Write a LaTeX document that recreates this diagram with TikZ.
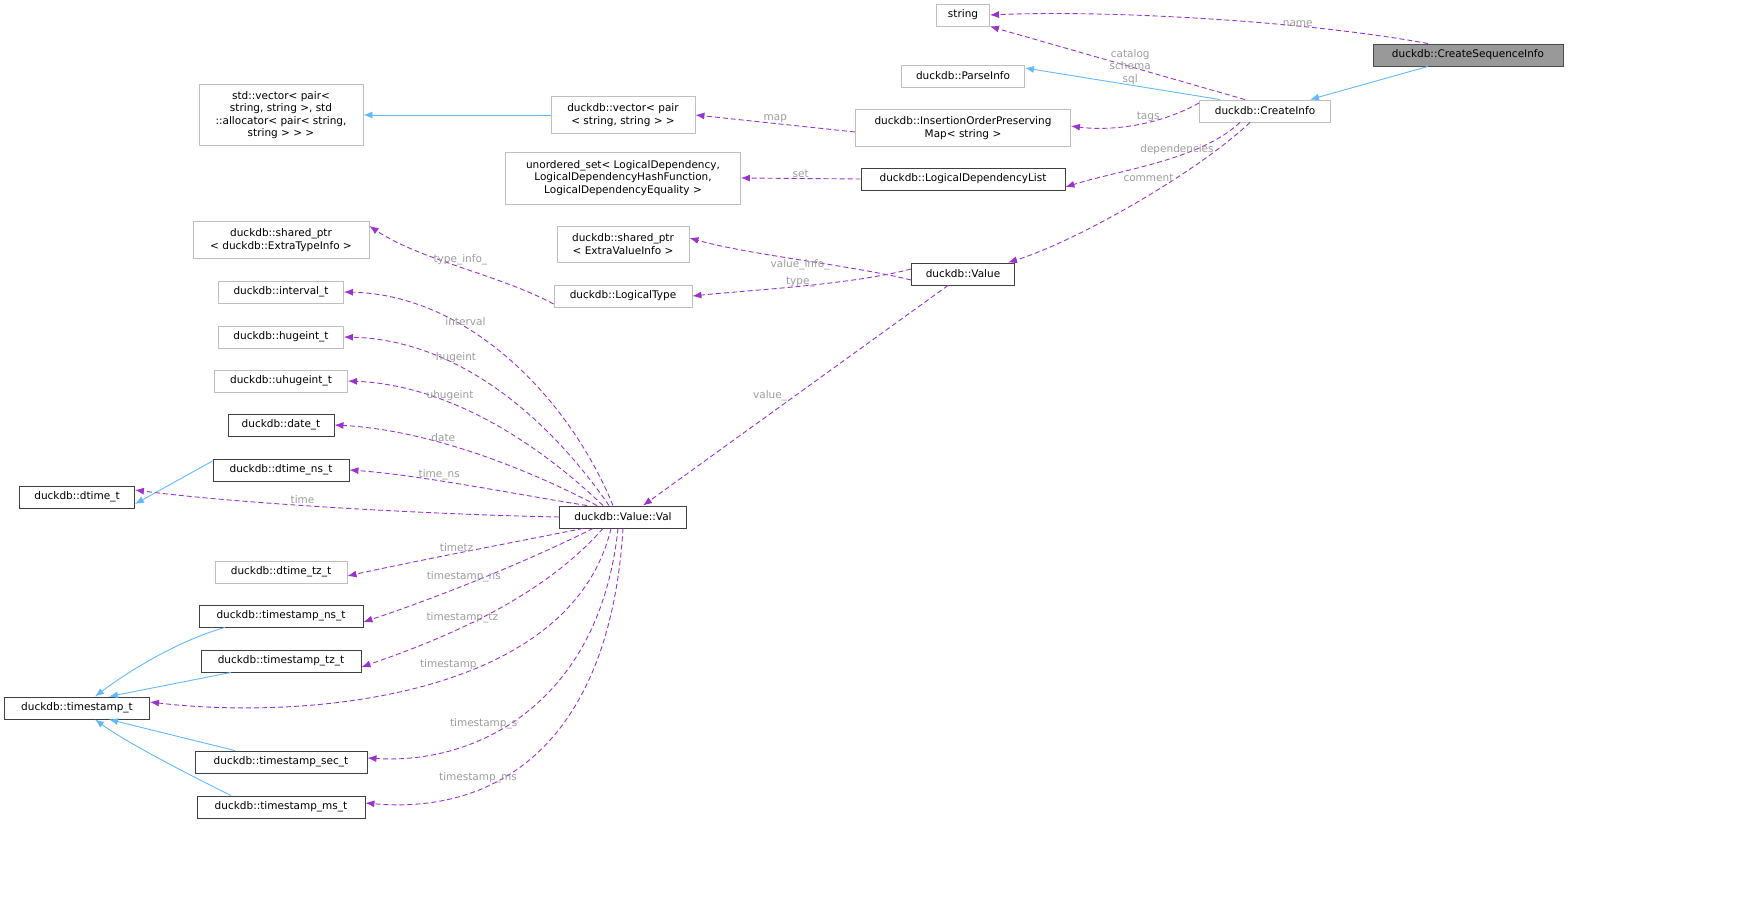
\documentclass[tikz,border=0pt]{standalone}
\usepackage{fontspec}
\setmainfont{DejaVu Sans}
\usetikzlibrary{arrows.meta}
\definecolor{mem}{HTML}{9A32CD}
\definecolor{inh}{HTML}{63B8FF}
\definecolor{gb}{HTML}{BFBFBF}
\definecolor{lb}{HTML}{9C9C9C}
\begin{document}
\begin{tikzpicture}[x=1pt,y=-1pt,
 every node/.style={font=\fontsize{10.5}{12.5}\selectfont},
 box/.style={draw=#1,fill=white,inner sep=2pt,minimum height=22pt,align=center,line width=0.9pt},
 box/.default=black!75,
 m/.style={draw=mem,dash pattern=on 5pt off 3pt,line width=0.9pt,-{Latex[length=9pt,width=7pt]}},
 h/.style={draw=inh,line width=0.9pt,-{Latex[length=9pt,width=7pt]}},
 l/.style={text=lb,align=center,inner sep=0pt}]
\useasboundingbox (0,0) rectangle (1740,915);
\node[box=gb,minimum width=53pt] (str) at (963,15) {string};
\node[box=black!70,fill=black!40,minimum width=190pt] (csi) at (1468,55) {duckdb::CreateSequenceInfo};
\node[box=gb,minimum width=123pt] (pi) at (963,76) {duckdb::ParseInfo};
\node[box=gb,minimum width=131pt] (ci) at (1265,111) {duckdb::CreateInfo};
\node[box=gb,minimum width=164pt,minimum height=61pt] (sv) at (281,115) {std::vector< pair<\\ string, string >, std\\ ::allocator< pair< string,\\ string > > >};
\node[box=gb,minimum width=144pt,minimum height=37pt] (dv) at (623,115) {duckdb::vector< pair\\ < string, string > >};
\node[box=gb,minimum width=215pt,minimum height=37pt] (iop) at (963,128) {duckdb::InsertionOrderPreserving\\ Map< string >};
\node[box=gb,minimum width=235pt,minimum height=52pt] (us) at (623,178) {unordered\_set< LogicalDependency,\\ LogicalDependencyHashFunction,\\ LogicalDependencyEquality >};
\node[box,minimum width=204pt] (ldl) at (963,179) {duckdb::LogicalDependencyList};
\node[box=gb,minimum width=176pt,minimum height=37pt] (spt) at (281,240) {duckdb::shared\_ptr\\ < duckdb::ExtraTypeInfo >};
\node[box=gb,minimum width=132pt,minimum height=36pt] (spv) at (623,244) {duckdb::shared\_ptr\\ < ExtraValueInfo >};
\node[box,minimum width=103pt] (val) at (963,274) {duckdb::Value};
\node[box=gb,minimum width=138pt] (lt) at (623,296) {duckdb::LogicalType};
\node[box=gb,minimum width=125pt] (iv) at (281,292) {duckdb::interval\_t};
\node[box=gb,minimum width=125pt] (hi) at (281,337) {duckdb::hugeint\_t};
\node[box=gb,minimum width=133pt] (uhi) at (281,381) {duckdb::uhugeint\_t};
\node[box,minimum width=106pt] (dt) at (281,425) {duckdb::date\_t};
\node[box,minimum width=136pt] (dtn) at (281,470) {duckdb::dtime\_ns\_t};
\node[box,minimum width=115pt] (dti) at (77,497) {duckdb::dtime\_t};
\node[box,minimum width=127pt] (vv) at (623,517) {duckdb::Value::Val};
\node[box=gb,minimum width=132pt] (dtz) at (281,572) {duckdb::dtime\_tz\_t};
\node[box,minimum width=164pt] (tsn) at (281,616) {duckdb::timestamp\_ns\_t};
\node[box,minimum width=160pt] (tstz) at (281,661) {duckdb::timestamp\_tz\_t};
\node[box,minimum width=145pt] (ts) at (77,708) {duckdb::timestamp\_t};
\node[box,minimum width=172pt] (tss) at (281,762) {duckdb::timestamp\_sec\_t};
\node[box,minimum width=168pt] (tsm) at (281,807) {duckdb::timestamp\_ms\_t};
% inheritance
\draw[h] ([xshift=-40pt]csi.south) -- ([xshift=45pt]ci.north);
\draw[h] ([xshift=-45pt]ci.north) -- ([yshift=8pt]pi.east);
\draw[h] (dv.west) -- (sv.east);
\draw[h] ([yshift=9pt]dtn.west) -- ([yshift=-7pt]dti.east);
\draw[h] ([xshift=-56pt]tsn.south) .. controls (180,640) and (130,670) .. ([xshift=18pt]ts.north);
\draw[h] ([xshift=-50pt]tstz.south) -- ([xshift=32pt]ts.north);
\draw[h] ([xshift=-46pt]tss.north) -- ([xshift=32pt]ts.south);
\draw[h] ([xshift=-50pt]tsm.north) .. controls (200,780) and (130,745) .. ([xshift=18pt]ts.south);
% members
\draw[m] ([xshift=-40pt]csi.north) .. controls (1300,20) and (1100,10) .. (str.east) node[l,pos=0.3,above=-1pt] {name};
\draw[m] ([xshift=-20pt]ci.north) -- (str.south east) node[l,pos=0.45] {catalog\\schema\\sql};
\draw[m] ([yshift=8pt]ci.west) .. controls (1150,130) and (1100,130) .. ([yshift=2pt]iop.east) node[l,pos=0.35,above=0pt] {tags};
\draw[m] ([xshift=-25pt]ci.south) .. controls (1200,160) and (1120,170) .. ([yshift=-8pt]ldl.east) node[l,pos=0.4,above=1pt] {dependencies};
\draw[m] ([xshift=-15pt]ci.south) .. controls (1200,170) and (1080,240) .. ([xshift=45pt]val.north) node[l,pos=0.35,left=3pt] {comment};
\draw[m] ([yshift=-4pt]iop.west) -- (dv.east) node[l,midway,above=0pt] {map};
\draw[m] (ldl.west) -- (us.east) node[l,midway,above=0pt] {set};
\draw[m] ([yshift=-6pt]val.west) .. controls (850,265) and (750,255) .. ([yshift=6pt]spv.east) node[l,pos=0.5,below=-1pt] {value\_info\_};
\draw[m] ([yshift=5pt]val.west) .. controls (850,285) and (750,290) .. (lt.east) node[l,pos=0.5,above=-1pt] {type\_};
\draw[m] ([yshift=-8pt]lt.west) .. controls (500,275) and (420,260) .. ([yshift=14pt]spt.east) node[l,pos=0.5,above=1pt] {type\_info\_};
\draw[m] ([xshift=-15pt]val.south) -- ([xshift=20pt]vv.north) node[l,pos=0.5,left=8pt] {value\_};
\draw[m] ([xshift=-10pt]vv.north) .. controls (570,400) and (470,295) .. (iv.east) node[l,pos=0.65,above=2pt] {interval};
\draw[m] ([xshift=-14pt]vv.north) .. controls (550,420) and (460,340) .. (hi.east) node[l,pos=0.65,above=2pt] {hugeint};
\draw[m] ([xshift=-20pt]vv.north) .. controls (540,445) and (450,385) .. (uhi.east) node[l,pos=0.65,above=2pt] {uhugeint};
\draw[m] ([xshift=-26pt]vv.north) .. controls (530,470) and (430,430) .. (dt.east) node[l,pos=0.62,above=2pt] {date};
\draw[m] ([xshift=-36pt]vv.north) .. controls (520,495) and (420,475) .. (dtn.east) node[l,pos=0.62,above=0pt] {time\_ns};
\draw[m] (vv.west) .. controls (450,515) and (250,505) .. ([yshift=7pt]dti.east) node[l,pos=0.6,above=1pt] {time};
\draw[m] ([xshift=-40pt]vv.south) .. controls (500,545) and (420,560) .. ([yshift=-4pt]dtz.east) node[l,pos=0.52,above=1pt] {timetz};
\draw[m] ([xshift=-30pt]vv.south) .. controls (520,565) and (430,600) .. ([yshift=-6pt]tsn.east) node[l,pos=0.55,above=3pt] {timestamp\_ns};
\draw[m] ([xshift=-20pt]vv.south) .. controls (540,600) and (440,640) .. ([yshift=-6pt]tstz.east) node[l,pos=0.6,above=4pt] {timestamp\_tz};
\draw[m] ([xshift=-12pt]vv.south) .. controls (570,700) and (300,720) .. ([yshift=6pt]ts.east) node[l,pos=0.45,above=8pt] {timestamp};
\draw[m] ([xshift=-5pt]vv.south) .. controls (600,700) and (480,765) .. ([yshift=4pt]tss.east) node[l,pos=0.65,above=8pt] {timestamp\_s};
\draw[m] ([xshift=0pt]vv.south) .. controls (610,740) and (500,815) .. ([yshift=4pt]tsm.east) node[l,pos=0.7,above=6pt] {timestamp\_ms};
\end{tikzpicture}
\end{document}
